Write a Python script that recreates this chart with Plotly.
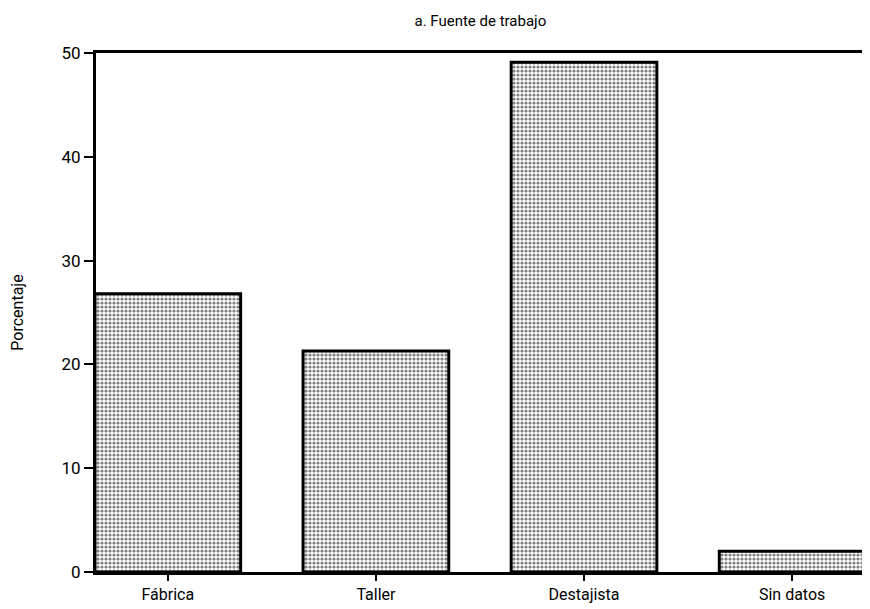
import plotly.graph_objects as go

categories = ["Fábrica", "Taller", "Destajista", "Sin datos"]
values = [26.8, 21.3, 49.1, 2.0]
y_ticks = [0, 10, 20, 30, 40, 50]

font_family = "Roboto, Open Sans, DejaVu Sans, sans-serif"

fig = go.Figure(
    go.Bar(
        x=list(range(len(categories))),
        y=values,
        width=0.7,
        marker=dict(
            color="white",
            line=dict(color="black", width=3),
            pattern=dict(shape=".", size=4, solidity=0.5,
                         fgcolor="black", bgcolor="white", fillmode="overlay"),
        ),
        hoverinfo="skip",
    )
)

fig.update_layout(
    width=862, height=601,
    margin=dict(l=88, r=1, t=45, b=37),
    paper_bgcolor="white", plot_bgcolor="white",
    showlegend=False,
    font=dict(family=font_family, color="black", size=15),
    title=dict(text="a. Fuente de trabajo", x=0.548, xanchor="center",
               y=0.978, yanchor="middle", font=dict(size=15)),
)

fig.update_xaxes(
    range=[-0.345, 3.355],
    tickmode="array", tickvals=list(range(len(categories))), ticktext=categories,
    ticks="outside", ticklen=6, tickwidth=2, tickcolor="black",
    showline=True, linecolor="black", linewidth=3, mirror=True,
    showgrid=False, zeroline=False,
    tickfont=dict(size=16),
)
fig.update_yaxes(
    range=[0, 50],
    tickmode="array", tickvals=y_ticks,
    ticks="outside", ticklen=9, tickwidth=2, tickcolor="black",
    showline=True, linecolor="black", linewidth=3, mirror=True,
    showgrid=False, zeroline=False,
    tickfont=dict(size=17),
    title=dict(text="Porcentaje", font=dict(size=16), standoff=40),
)

fig.write_html("out.html")
